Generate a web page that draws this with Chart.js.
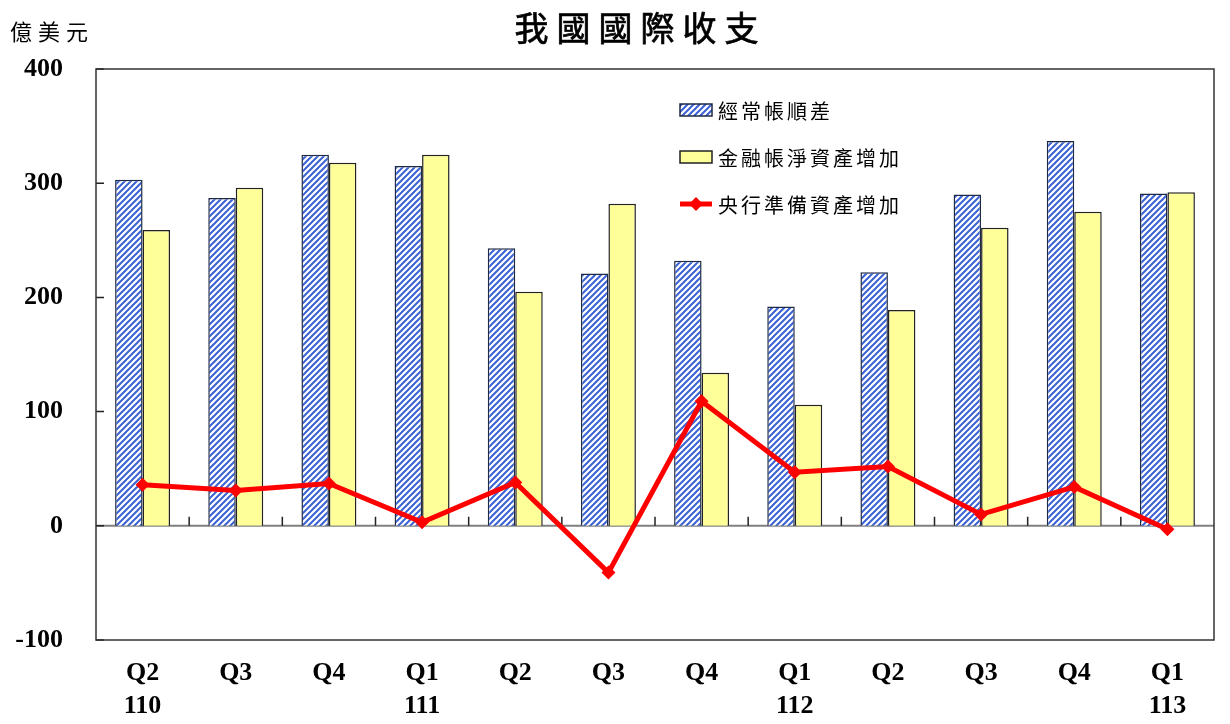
<!DOCTYPE html>
<html>
<head>
<meta charset="utf-8">
<script src="https://cdn.jsdelivr.net/npm/chart.js@4"></script>
<style>
  body { margin: 0; background: #fff; }
  #wrap { position: relative; width: 1230px; height: 724px; }
  #title { position: absolute; top: 2px; left: 0; width: 1281px; text-align: center;
           font: 34px "Noto Sans CJK TC", sans-serif; -webkit-text-stroke: 0.7px #000;
           letter-spacing: 8px; color: #000; }
  #unit { position: absolute; top: 14px; left: 10px;
          font: 22px "Noto Sans CJK TC", sans-serif; letter-spacing: 6px; color: #000; }
</style>
</head>
<body>
<div id="wrap">
  <canvas id="chart" width="1230" height="724"></canvas>
  <div id="title">我國國際收支</div>
  <div id="unit">億美元</div>
</div>
<script>
// data (億美元)
const quarters = ['Q2', 'Q3', 'Q4', 'Q1', 'Q2', 'Q3', 'Q4', 'Q1', 'Q2', 'Q3', 'Q4', 'Q1'];
const years = ['110', '', '', '111', '', '', '', '112', '', '', '', '113'];
const currentAccount = [303, 287, 325, 315, 243, 221, 232, 192, 222, 290, 337, 291];
const financialAccount = [259, 296, 318, 325, 205, 282, 134, 106, 189, 261, 275, 292];
const reserveAssets = [36, 31, 37, 3, 38, -41, 109, 47, 52, 10, 34, -3];
const seriesNames = ['經常帳順差', '金融帳淨資產增加', '央行準備資產增加'];
const yTicks = [-100, 0, 100, 200, 300, 400];

const labels = quarters.map((q, i) => [q, years[i]]);

const canvas = document.getElementById('chart');
const ctx = canvas.getContext('2d');

// blue diagonal hatch for the current account bars
function makeHatch() {
  const c = document.createElement('canvas');
  c.width = 6; c.height = 6;
  const g = c.getContext('2d');
  g.fillStyle = '#fff';
  g.fillRect(0, 0, 6, 6);
  g.strokeStyle = '#3b62d4';
  g.lineWidth = 2;
  g.beginPath();
  g.moveTo(-1, 7); g.lineTo(7, -1);
  g.moveTo(-4, 4); g.lineTo(4, -4);
  g.moveTo(2, 10); g.lineTo(10, 2);
  g.stroke();
  return ctx.createPattern(c, 'repeat');
}
const hatch = makeHatch();

// frame, zero line and inner tick marks
const framePlugin = {
  id: 'frame',
  beforeDatasetsDraw(chart) {
    const a = chart.chartArea;
    const x = chart.scales.x, y = chart.scales.y;
    const c = chart.ctx;
    c.save();
    const y0 = y.getPixelForValue(0);
    c.strokeStyle = '#808080';
    c.lineWidth = 2;
    c.beginPath(); c.moveTo(a.left, y0); c.lineTo(a.right, y0); c.stroke();
    c.strokeStyle = '#222';
    c.lineWidth = 1.5;
    c.beginPath();
    for (let i = 0; i < labels.length - 1; i++) {
      const bx = (x.getPixelForValue(i) + x.getPixelForValue(i + 1)) / 2;
      c.moveTo(bx, y0); c.lineTo(bx, y0 - 9);
    }
    yTicks.forEach(v => {
      const py = y.getPixelForValue(v);
      c.moveTo(a.left, py); c.lineTo(a.left + 8, py);
    });
    c.stroke();
    c.strokeStyle = '#333';
    c.lineWidth = 1.5;
    c.strokeRect(a.left, a.top, a.right - a.left, a.bottom - a.top);
    c.restore();
  }
};

// legend drawn inside the plot
const legendPlugin = {
  id: 'innerLegend',
  afterDraw(chart) {
    const c = chart.ctx;
    const sx = 680, sw = 32, tx = 718;
    const rows = [110, 157, 204];
    const ds = chart.data.datasets;
    const barSets = [ds[1], ds[2]];
    const lineSet = ds[0];
    c.save();
    barSets.forEach((d, k) => {
      const ry = rows[k];
      c.fillStyle = d.backgroundColor;
      c.fillRect(sx, ry - 6, sw, 12);
      c.strokeStyle = d.borderColor;
      c.lineWidth = 1.5;
      c.strokeRect(sx, ry - 6, sw, 12);
    });
    const ly = rows[2];
    c.strokeStyle = lineSet.borderColor;
    c.lineWidth = 5;
    c.beginPath(); c.moveTo(sx, ly); c.lineTo(sx + sw, ly); c.stroke();
    c.fillStyle = lineSet.borderColor;
    c.beginPath();
    c.moveTo(sx + sw / 2, ly - 7); c.lineTo(sx + sw / 2 + 7, ly);
    c.lineTo(sx + sw / 2, ly + 7); c.lineTo(sx + sw / 2 - 7, ly);
    c.closePath(); c.fill();
    c.font = '20px "Noto Sans CJK TC", sans-serif';
    c.letterSpacing = '3px';
    c.textBaseline = 'middle';
    c.fillStyle = '#000';
    seriesNames.forEach((n, k) => c.fillText(n, tx, rows[k] + 1));
    c.restore();
  }
};

new Chart(canvas, {
  type: 'bar',
  data: {
    labels: labels,
    datasets: [
      {
        type: 'line',
        label: seriesNames[2],
        data: reserveAssets,
        borderColor: '#ff0000',
        backgroundColor: '#ff0000',
        borderWidth: 5,
        pointStyle: 'rectRot',
        pointRadius: 7,
        pointBorderWidth: 0,
        tension: 0,
        order: 0
      },
      {
        label: seriesNames[0],
        data: currentAccount,
        backgroundColor: hatch,
        borderColor: '#1f2a44',
        borderWidth: 1.5,
        categoryPercentage: 0.59,
        barPercentage: 1,
        order: 1
      },
      {
        label: seriesNames[1],
        data: financialAccount,
        backgroundColor: '#ffff99',
        borderColor: '#222',
        borderWidth: 1.5,
        categoryPercentage: 0.59,
        barPercentage: 1,
        order: 1
      }
    ]
  },
  options: {
    responsive: false,
    animation: false,
    layout: { padding: { top: 69, right: 16, bottom: 0, left: 0 } },
    plugins: {
      legend: { display: false },
      title: { display: false },
      tooltip: { enabled: false }
    },
    scales: {
      x: {
        grid: { display: false, drawTicks: false },
        border: { display: false },
        ticks: {
          color: '#000',
          padding: 16,
          maxRotation: 0,
          font: { family: '"Liberation Serif", serif', size: 26, weight: 'bold', lineHeight: 1.3 }
        },
        afterFit(s) { s.height = 84; }
      },
      y: {
        min: -100,
        max: 400,
        grid: { display: false, drawTicks: false },
        border: { display: false },
        ticks: {
          stepSize: 100,
          color: '#000',
          padding: 33,
          font: { family: '"Liberation Serif", serif', size: 26, weight: 'bold' }
        },
        afterFit(s) { s.width = 96; }
      }
    }
  },
  plugins: [framePlugin, legendPlugin]
});
</script>
</body>
</html>
